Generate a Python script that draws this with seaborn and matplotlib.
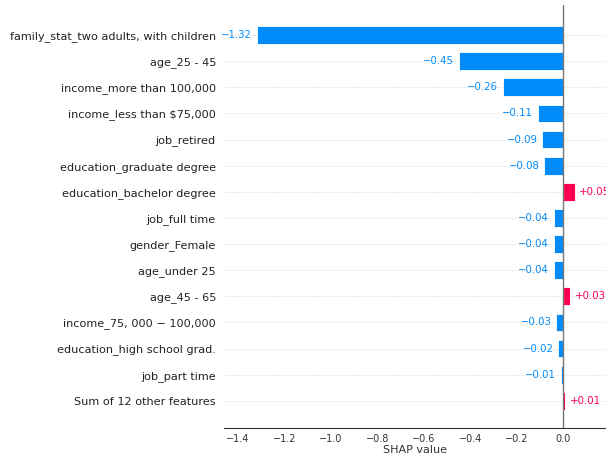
import numpy as np
import pandas as pd
import seaborn as sns
import matplotlib.pyplot as plt

# SHAP values per feature (top to bottom)
features = [
    "family_stat_two adults, with children",
    "age_25 - 45",
    "income_more than 100,000",
    "income_less than \\$75,000",
    "job_retired",
    "education_graduate degree",
    "education_bachelor degree",
    "job_full time",
    "gender_Female",
    "age_under 25",
    "age_45 - 65",
    "income_75, 000 \u2212 100,000",
    "education_high school grad.",
    "job_part time",
    "Sum of 12 other features",
]
shap_values = [-1.32, -0.45, -0.26, -0.11, -0.09, -0.08, 0.05, -0.04,
               -0.04, -0.04, 0.03, -0.03, -0.02, -0.01, 0.01]
value_labels = ["\u22121.32", "\u22120.45", "\u22120.26", "\u22120.11", "\u22120.09",
                "\u22120.08", "+0.05", "\u22120.04", "\u22120.04", "\u22120.04",
                "+0.03", "\u22120.03", "\u22120.02", "\u22120.01", "+0.01"]

blue = "#008bfb"
red = "#ff0051"

df = pd.DataFrame({"feature": features, "value": shap_values})
df["sign"] = np.where(df["value"] > 0, "pos", "neg")

sns.set_style("white")
plt.rcParams['font.family'] = ['DejaVu Sans']

fig = plt.figure(figsize=(6.06, 4.57), dpi=100)
ax = fig.add_axes([0.37, 0.064, 0.63, 0.925])

# dotted row guides
for i in range(len(features)):
    ax.axhline(i, color="#cccccc", lw=0.6, ls=(0, (1, 2)), zorder=0)

sns.barplot(data=df, x="value", y="feature", hue="sign",
            palette={"pos": red, "neg": blue}, orient="h", width=0.68,
            dodge=False, legend=False, edgecolor="white", linewidth=0.6,
            saturation=1, ax=ax, zorder=2)

ax.axvline(0, color="#777777", lw=1, zorder=3)

for i, (v, lab) in enumerate(zip(shap_values, value_labels)):
    if v < 0:
        ax.text(v - 0.02, i, lab, ha="right", va="center", color=blue, fontsize=7.3)
    else:
        ax.text(v + 0.02, i, lab, ha="left", va="center", color=red, fontsize=7.3)

ax.set_xlim(-1.46, 0.185)
ax.set_ylim(len(features) - 1 + 1.03, -1.15)
ax.set_xticks(np.arange(-1.4, 0.01, 0.2))
ax.set_xticklabels(["\u22121.4", "\u22121.2", "\u22121.0", "\u22120.8", "\u22120.6",
                    "\u22120.4", "\u22120.2", "0.0"])
ax.tick_params(axis="x", labelsize=7, colors="#333333", length=3, width=0.6, pad=1.5)
ax.tick_params(axis="y", labelsize=8.1, length=0, pad=6, labelcolor="#222222")
ax.set_xlabel("SHAP value", fontsize=8, color="#333333", labelpad=1)
ax.set_ylabel("")

for s in ["top", "right", "left"]:
    ax.spines[s].set_visible(False)
ax.spines["bottom"].set_color("#333333")
ax.spines["bottom"].set_linewidth(0.8)

fig.savefig("out.png", dpi=100)
